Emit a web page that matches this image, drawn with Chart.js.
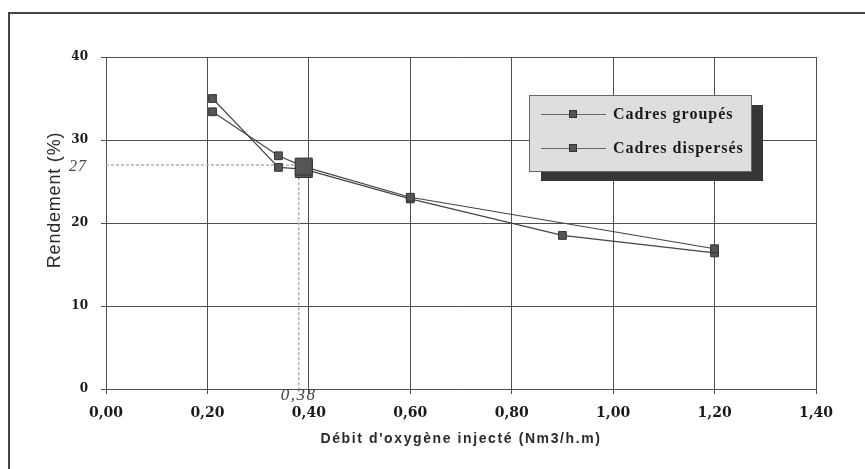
<!DOCTYPE html>
<html>
<head>
<meta charset="utf-8">
<script src="https://cdn.jsdelivr.net/npm/chart.js@4/dist/chart.umd.min.js"></script>
<style>
  html, body { margin: 0; padding: 0; background: #fff; }
  #wrap { width: 865px; height: 469px; }
</style>
</head>
<body>
<div id="wrap"><canvas id="yieldChart" width="865" height="469"></canvas></div>
<script>
// oxygen flow (Nm3/h.m) and yield (%) for the two frame layouts
const seriesNames = ['Cadres groupés', 'Cadres dispersés'];
const flowGrouped = [0.21, 0.34, 0.39, 0.60, 1.20];
const yieldGrouped = [33.4, 28.1, 26.8, 23.1, 16.9];
const flowDispersed = [0.21, 0.34, 0.39, 0.60, 0.90, 1.20];
const yieldDispersed = [35.0, 26.7, 26.5, 22.9, 18.5, 16.4];
// bigger marker where the curves hit the reference point
const radiusGrouped = [5.5, 5.5, 12, 5.5, 5.5];
const radiusDispersed = [5.5, 5.5, 12, 5.5, 5.5, 5.5];

const refFlow = 0.38;
const refYield = 27;

const xTicks = [0, 0.2, 0.4, 0.6, 0.8, 1.0, 1.2, 1.4];
const yTicks = [0, 10, 20, 30, 40];
const xTitle = "Débit d'oxygène injecté (Nm3/h.m)";
const yTitle = 'Rendement (%)';

const toPoints = (xs, ys) => xs.map((x, i) => ({ x: x, y: ys[i] }));
const fmt = v => v.toFixed(2).replace('.', ',');

const lineColor = '#444';
const gridColor = '#505050';

const decorations = {
  id: 'decorations',
  beforeDraw(chart) {
    const ctx = chart.ctx;
    ctx.save();
    ctx.fillStyle = '#fff';
    ctx.fillRect(0, 0, chart.width, chart.height);
    // outer frame
    ctx.strokeStyle = '#444';
    ctx.lineWidth = 2;
    ctx.strokeRect(9, 13, 880, 480);
    ctx.restore();
  },
  afterDraw(chart) {
    const ctx = chart.ctx;
    const xs = chart.scales.x;
    const ys = chart.scales.y;
    ctx.save();

    // axis titles
    ctx.fillStyle = '#2a2a2a';
    ctx.textAlign = 'center';
    ctx.textBaseline = 'middle';
    ctx.font = 'bold 14px "Liberation Sans", Arial, sans-serif';
    ctx.letterSpacing = '1.6px';
    ctx.fillText(xTitle, (chart.chartArea.left + chart.chartArea.right) / 2, 439);

    ctx.save();
    ctx.translate(55, 200);
    ctx.rotate(-Math.PI / 2);
    ctx.font = '18px "Liberation Sans", Arial, sans-serif';
    ctx.letterSpacing = '0.8px';
    ctx.fillStyle = '#2a2a2a';
    ctx.fillText(yTitle, 0, 0);
    ctx.restore();

    // reference point labels
    ctx.fillStyle = '#444';
    ctx.font = 'italic 16px "Liberation Serif", "Times New Roman", serif';
    ctx.letterSpacing = '1px';
    ctx.textAlign = 'right';
    ctx.fillText(String(refYield), 87, ys.getPixelForValue(refYield) + 2);
    ctx.textAlign = 'center';
    ctx.font = 'italic 17px "Liberation Serif", "Times New Roman", serif';
    ctx.letterSpacing = '1.5px';
    ctx.fillText(refFlow.toFixed(2).replace('.', ','), xs.getPixelForValue(refFlow), 396);

    // legend box with drop shadow
    const bx = 529, by = 95, bw = 222, bh = 76;
    ctx.fillStyle = '#363636';
    ctx.fillRect(bx + 12, by + 10, bw, bh);
    ctx.fillStyle = '#dedede';
    ctx.fillRect(bx, by, bw, bh);
    ctx.strokeStyle = '#666';
    ctx.lineWidth = 1;
    ctx.strokeRect(bx + 0.5, by + 0.5, bw, bh);

    const rows = [114, 148];
    ctx.letterSpacing = '1px';
    ctx.font = 'bold 16px "Liberation Serif", "Times New Roman", serif';
    ctx.textAlign = 'left';
    ctx.textBaseline = 'middle';
    chart.data.datasets.slice(0, 2).forEach((ds, i) => {
      const y = rows[i];
      ctx.strokeStyle = '#666';
      ctx.beginPath();
      ctx.moveTo(541, y + 0.5);
      ctx.lineTo(606, y + 0.5);
      ctx.stroke();
      ctx.fillStyle = '#555';
      ctx.fillRect(569, y - 4, 8, 8);
      ctx.strokeStyle = '#333';
      ctx.strokeRect(569.5, y - 3.5, 7, 7);
      ctx.fillStyle = '#1a1a1a';
      ctx.fillText(ds.label, 613, y + 1);
    });
    ctx.restore();
  }
};

const ctx = document.getElementById('yieldChart').getContext('2d');
new Chart(ctx, {
  type: 'line',
  data: {
    datasets: [
      {
        label: seriesNames[0],
        data: toPoints(flowGrouped, yieldGrouped),
        borderColor: lineColor,
        borderWidth: 1.2,
        backgroundColor: '#555',
        pointBackgroundColor: '#555',
        pointBorderColor: '#333',
        pointBorderWidth: 1,
        pointStyle: 'rect',
        pointRadius: radiusGrouped,
        tension: 0,
        order: 1,
      },
      {
        label: seriesNames[1],
        data: toPoints(flowDispersed, yieldDispersed),
        borderColor: lineColor,
        borderWidth: 1.2,
        backgroundColor: '#555',
        pointBackgroundColor: '#555',
        pointBorderColor: '#333',
        pointBorderWidth: 1,
        pointStyle: 'rect',
        pointRadius: radiusDispersed,
        tension: 0,
        order: 1,
      },
      {
        // dotted guide to the reference point
        label: 'guide',
        data: [{ x: 0, y: refYield }, { x: refFlow, y: refYield }, { x: refFlow, y: 0 }],
        borderColor: '#b0b0b0',
        borderWidth: 1.5,
        borderDash: [3, 2],
        pointRadius: 0,
        tension: 0,
        order: 2,
      },
    ],
  },
  options: {
    responsive: false,
    animation: false,
    layout: {
      padding: { top: 57, right: 49, left: 0, bottom: 0 },
    },
    plugins: {
      legend: { display: false },
      tooltip: { enabled: false },
    },
    scales: {
      x: {
        type: 'linear',
        min: 0,
        max: 1.4,
        afterBuildTicks: scale => { scale.ticks = xTicks.map(v => ({ value: v })); },
        afterFit: scale => { scale.height = 80; },
        grid: { color: gridColor, tickLength: 5, lineWidth: 1 },
        border: { color: gridColor },
        ticks: {
          padding: 11,
          color: '#1a1a1a',
          maxRotation: 0,
          font: { family: '"DejaVu Serif", serif', weight: 'bold', size: 14 },
          callback: v => fmt(v),
        },
      },
      y: {
        type: 'linear',
        min: 0,
        max: 40,
        afterBuildTicks: scale => { scale.ticks = yTicks.map(v => ({ value: v })); },
        afterFit: scale => { scale.width = 106; },
        grid: { color: gridColor, tickLength: 5, lineWidth: 1 },
        border: { color: gridColor },
        ticks: {
          padding: 13,
          color: '#1a1a1a',
          font: { family: '"DejaVu Serif", serif', weight: 'bold', size: 12 },
        },
      },
    },
  },
  plugins: [decorations],
});
</script>
</body>
</html>
